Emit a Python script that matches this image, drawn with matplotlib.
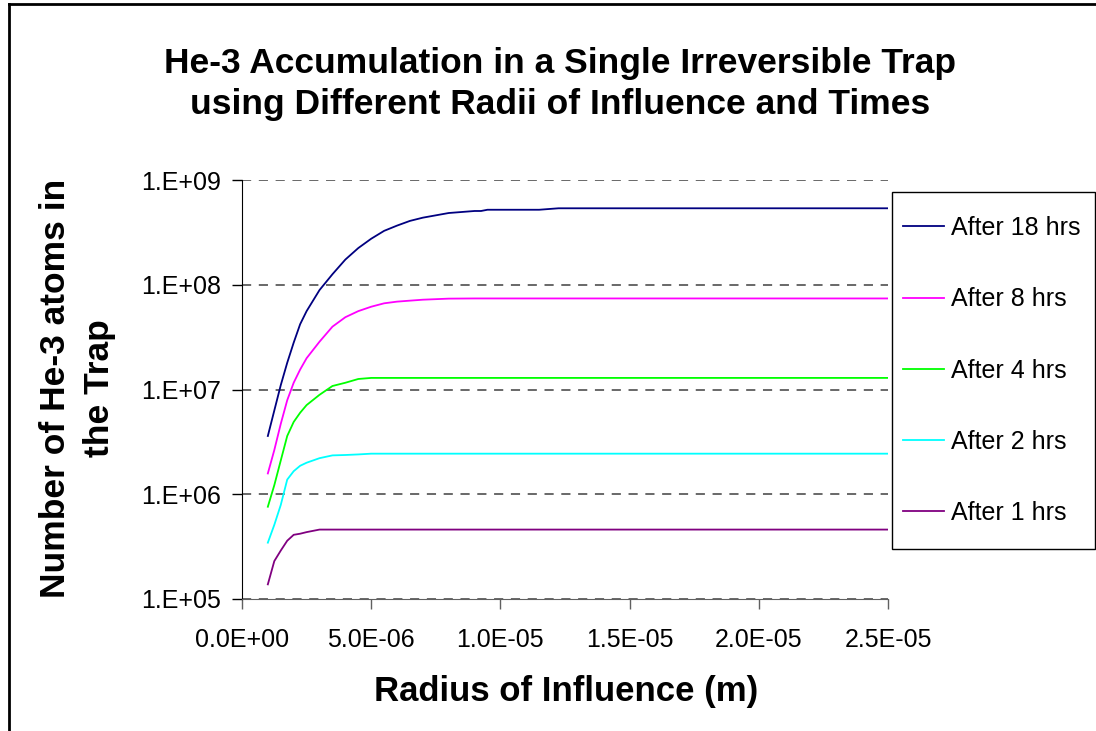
import math
import matplotlib
matplotlib.use("Agg")
import matplotlib.pyplot as plt
from matplotlib.ticker import FixedLocator, FuncFormatter
from matplotlib.lines import Line2D
from matplotlib.patches import Rectangle

# radius of influence, in micrometres (converted to m when plotted)
radius_um = [1.0, 1.25, 1.5, 1.75, 2.0, 2.25, 2.5, 3.0, 3.5, 4.0, 4.5, 5.0,
             5.5, 6.0, 6.5, 7.0, 8.0, 9.0, 9.25, 9.5, 11.5, 12.25, 15.0, 20.0, 25.0]

after_18 = [3.6e6, 6.3e6, 1.1e7, 1.8e7, 2.8e7, 4.2e7, 5.6e7, 8.9e7, 1.26e8, 1.74e8,
            2.24e8, 2.75e8, 3.27e8, 3.67e8, 4.07e8, 4.37e8, 4.84e8, 5.06e8, 5.06e8,
            5.2e8, 5.2e8, 5.37e8, 5.37e8, 5.37e8, 5.37e8]
after_8 = [1.58e6, 2.64e6, 4.7e6, 7.9e6, 1.16e7, 1.55e7, 1.99e7, 2.86e7, 3.98e7, 4.9e7,
           5.6e7, 6.17e7, 6.65e7, 6.9e7, 7.05e7, 7.2e7, 7.37e7, 7.4e7, 7.4e7,
           7.4e7, 7.4e7, 7.4e7, 7.4e7, 7.4e7, 7.4e7]
after_4 = [7.6e5, 1.22e6, 2.1e6, 3.6e6, 4.9e6, 6.0e6, 7.1e6, 8.9e6, 1.08e7, 1.16e7,
           1.26e7, 1.29e7, 1.29e7, 1.29e7, 1.29e7, 1.29e7, 1.29e7, 1.29e7, 1.29e7,
           1.29e7, 1.29e7, 1.29e7, 1.29e7, 1.29e7, 1.29e7]
after_2 = [3.45e5, 5.1e5, 7.9e5, 1.38e6, 1.66e6, 1.87e6, 2.0e6, 2.21e6, 2.35e6, 2.37e6,
           2.4e6, 2.44e6, 2.44e6, 2.44e6, 2.44e6, 2.44e6, 2.44e6, 2.44e6, 2.44e6,
           2.44e6, 2.44e6, 2.44e6, 2.44e6, 2.44e6, 2.44e6]
after_1 = [1.38e5, 2.3e5, 2.9e5, 3.6e5, 4.1e5, 4.2e5, 4.35e5, 4.6e5, 4.6e5, 4.6e5,
           4.6e5, 4.6e5, 4.6e5, 4.6e5, 4.6e5, 4.6e5, 4.6e5, 4.6e5, 4.6e5,
           4.6e5, 4.6e5, 4.6e5, 4.6e5, 4.6e5, 4.6e5]

series = [("After 18 hrs", after_18, "#000080"),
          ("After 8 hrs", after_8, "#FF00FF"),
          ("After 4 hrs", after_4, "#00FF00"),
          ("After 2 hrs", after_2, "#00FFFF"),
          ("After 1 hrs", after_1, "#800080")]

x_ticks = [0.0, 5e-6, 1e-5, 1.5e-5, 2e-5, 2.5e-5]
y_ticks = [1e5, 1e6, 1e7, 1e8, 1e9]

plt.rcParams['font.family'] = ['Liberation Sans', 'DejaVu Sans']

W, H = 1096, 731
fig = plt.figure(figsize=(W / 100, H / 100), dpi=100)
ax = fig.add_axes([242 / W, 1 - 599 / H, 646 / W, 419 / H])

xs = [r * 1e-6 for r in radius_um]
for name, vals, col in series:
    ax.plot(xs, vals, color=col, lw=1.3, label=name)

ax.set_yscale("log")
ax.set_ylim(1e5, 1e9)
ax.set_xlim(0, 2.5e-5)
ax.yaxis.set_major_locator(FixedLocator(y_ticks))
ax.yaxis.set_minor_locator(FixedLocator([]))
ax.yaxis.set_major_formatter(FuncFormatter(lambda v, p: "1.E+%02d" % round(math.log10(v))))
ax.set_xticks(x_ticks)
ax.xaxis.set_major_formatter(FuncFormatter(lambda v, p: "%.1E" % v))

ax.grid(axis="y", color="#404040", ls=(0, (6, 5)), lw=1.1)
ax.set_axisbelow(True)
for s in ["top", "right"]:
    ax.spines[s].set_visible(False)
ax.spines["left"].set_color("black")
ax.spines["bottom"].set_color("#606060")
ax.tick_params(axis="both", direction="out", length=7, width=1, labelsize=18)
ax.tick_params(axis="y", pad=8)
ax.tick_params(axis="x", pad=14, color="#606060")

fig.text(0.511, 1 - 84 / H, "He-3 Accumulation in a Single Irreversible Trap\n"
         "using Different Radii of Influence and Times",
         ha="center", va="center", fontsize=25.5, fontweight="bold", linespacing=1.33)
fig.text(77.5 / W, 1 - 388 / H, "Number of He-3 atoms in\nthe Trap", rotation=90,
         ha="center", va="center", fontsize=25.5, fontweight="bold", multialignment="center",
         linespacing=1.39)
fig.text(566 / W, 1 - 691 / H, "Radius of Influence (m)", ha="center", va="center",
         fontsize=25, fontweight="bold")

# legend: entries without frame, frame drawn as a box
fig.legend(loc="center left", bbox_to_anchor=(903 / W, 1 - 370.5 / H), fontsize=18,
           frameon=False, handlelength=1.64, handletextpad=0.28, labelspacing=1.89,
           borderpad=0, borderaxespad=0)
fig.add_artist(Rectangle((892 / W, 1 - 549 / H), 203 / W, 357 / H, transform=fig.transFigure,
                         fill=False, edgecolor="black", lw=1.0))

# outer chart border (left and top only are visible)
fig.add_artist(Line2D([9 / W, 9 / W], [0, 1 - 4 / H], color="black", lw=2))
fig.add_artist(Line2D([9 / W, 1], [1 - 4 / H, 1 - 4 / H], color="black", lw=2))

fig.savefig("out.png", dpi=100)
